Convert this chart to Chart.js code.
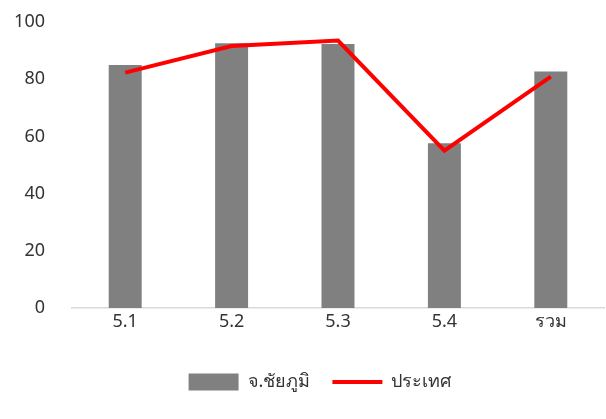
<!DOCTYPE html>
<html>
<head>
<meta charset="utf-8">
<script src="https://cdn.jsdelivr.net/npm/chart.js"></script>
<style>
  html, body { margin: 0; padding: 0; background: #fff; }
  #wrap { width: 606px; height: 419px; }
</style>
</head>
<body>
<div id="wrap"><canvas id="c"></canvas></div>
<script>
const categories = ["5.1", "5.2", "5.3", "5.4", "รวม"];
const provinceValues = [85.0, 92.6, 92.3, 57.6, 82.7];
const countryValues = [82.3, 91.6, 93.5, 55.0, 80.9];
const yTicks = [0, 20, 40, 60, 80, 100];

const FONT = "'Noto Sans', 'DejaVu Sans', sans-serif";
Chart.defaults.font.family = FONT;
Chart.defaults.color = "#333";

// legend sits a little right of centre in the original
const legendShift = {
  id: 'legendShift',
  afterLayout(chart) {
    if (chart.legend) chart.legend.left += 36;
  }
};

new Chart(document.getElementById("c").getContext("2d"), {
  type: 'bar',
  data: {
    labels: categories,
    datasets: [
      {
        type: 'line',
        label: 'ประเทศ',
        data: countryValues,
        borderColor: '#ff0000',
        backgroundColor: '#ff0000',
        borderWidth: 4,
        pointRadius: 0,
        pointStyle: 'line',
        tension: 0,
        order: 0
      },
      {
        type: 'bar',
        label: 'จ.ชัยภูมิ',
        data: provinceValues,
        backgroundColor: '#808080',
        borderWidth: 0,
        pointStyle: 'rect',
        barPercentage: 0.62,
        categoryPercentage: 0.5,
        order: 1
      }
    ]
  },
  options: {
    responsive: true,
    maintainAspectRatio: false,
    animation: false,
    layout: { padding: { top: 22, right: 2, bottom: 18, left: 0 } },
    plugins: {
      tooltip: { enabled: false },
      legend: {
        position: 'bottom',
        reverse: true,
        labels: {
          usePointStyle: true,
          pointStyleWidth: 50,
          boxHeight: 17,
          padding: 22,
          color: '#333',
          font: { size: 18, family: FONT }
        }
      }
    },
    scales: {
      x: {
        grid: { display: false, drawTicks: false },
        border: { color: '#d9d9d9', width: 1.5 },
        ticks: { padding: 3, font: { size: 18 }, color: '#333' },
        afterFit: s => { s.height = 43; }
      },
      y: {
        min: 0,
        max: 100,
        afterBuildTicks: s => { s.ticks = yTicks.map(v => ({ value: v })); },
        grid: { display: false, drawTicks: true, tickLength: 27 },
        border: { display: false },
        ticks: { padding: 0, font: { size: 18 }, color: '#333' },
        afterFit: s => { s.width = 72; }
      }
    }
  },
  plugins: [legendShift]
});
</script>
</body>
</html>
